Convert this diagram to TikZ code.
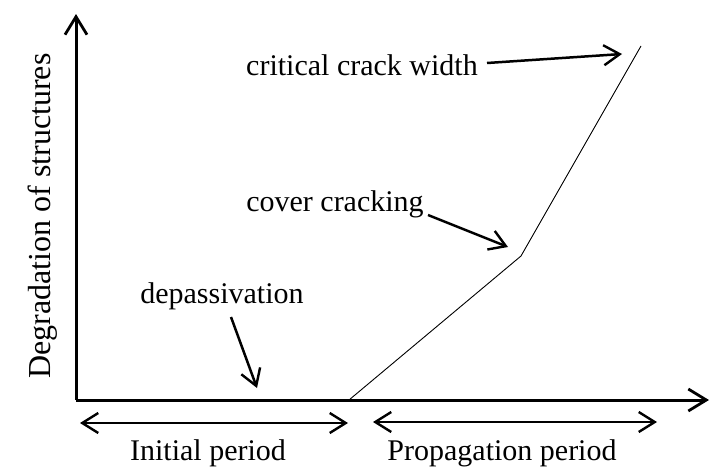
\documentclass[tikz,border=0pt]{standalone}
\usepackage{fontspec}
\setmainfont{Liberation Serif}
\usetikzlibrary{arrows.meta}
\tikzset{
  lbl/.style={inner sep=0pt, anchor=base, font=\fontsize{30}{35}\selectfont},
  axis/.style={line width=3pt, -{Straight Barb[length=18pt,width=22pt,line width=2.8pt]}},
  span/.style={line width=2.5pt, {Straight Barb[length=16pt,width=20pt,line width=2.4pt]}-{Straight Barb[length=16pt,width=20pt,line width=2.4pt]}},
  callout/.style={line width=2.5pt, -{Straight Barb[length=16pt,width=20pt,line width=2.4pt]}},
  curve/.style={line width=0.9pt}
}
\begin{document}
\begin{tikzpicture}[x=1pt,y=-1pt]
\useasboundingbox (0,0) rectangle (710,469);
% axes
\coordinate (O) at (76,400);
\coordinate (Ytop) at (76,14);
\coordinate (Xend) at (709,400);
\draw[axis] (O) -- (Ytop);
\draw[axis] (O) -- (Xend);
% y label
\node[inner sep=0pt, anchor=base, rotate=90, font=\fontsize{32}{37}\selectfont] (ylab) at (50,216) {Degradation of structures};
% degradation curve
\coordinate (c0) at (349,400);
\coordinate (c1) at (521,256);
\coordinate (c2) at (641,46);
\draw[curve] (c0) -- (c1) -- (c2);
% periods
\coordinate (i1) at (80,423);
\coordinate (i2) at (348,423);
\coordinate (p1) at (373,422);
\coordinate (p2) at (657,422);
\draw[span] (i1) -- (i2);
\draw[span] (p1) -- (p2);
\node[lbl] (init) at (208,460) {Initial period};
\node[lbl] (prop) at (502,460) {Propagation period};
% callouts
\node[lbl] (crit) at (362,75) {critical crack width};
\node[lbl] (cover) at (335,211) {cover cracking};
\node[lbl] (depas) at (222,303) {depassivation};
\coordinate (a1) at (487,63);
\coordinate (b1) at (622,54);
\coordinate (a2) at (428,215);
\coordinate (b2) at (508,247);
\coordinate (a3) at (231,317);
\coordinate (b3) at (257,388);
\draw[callout] (a1) -- (b1);
\draw[callout] (a2) -- (b2);
\draw[callout] (a3) -- (b3);
\end{tikzpicture}
\end{document}
